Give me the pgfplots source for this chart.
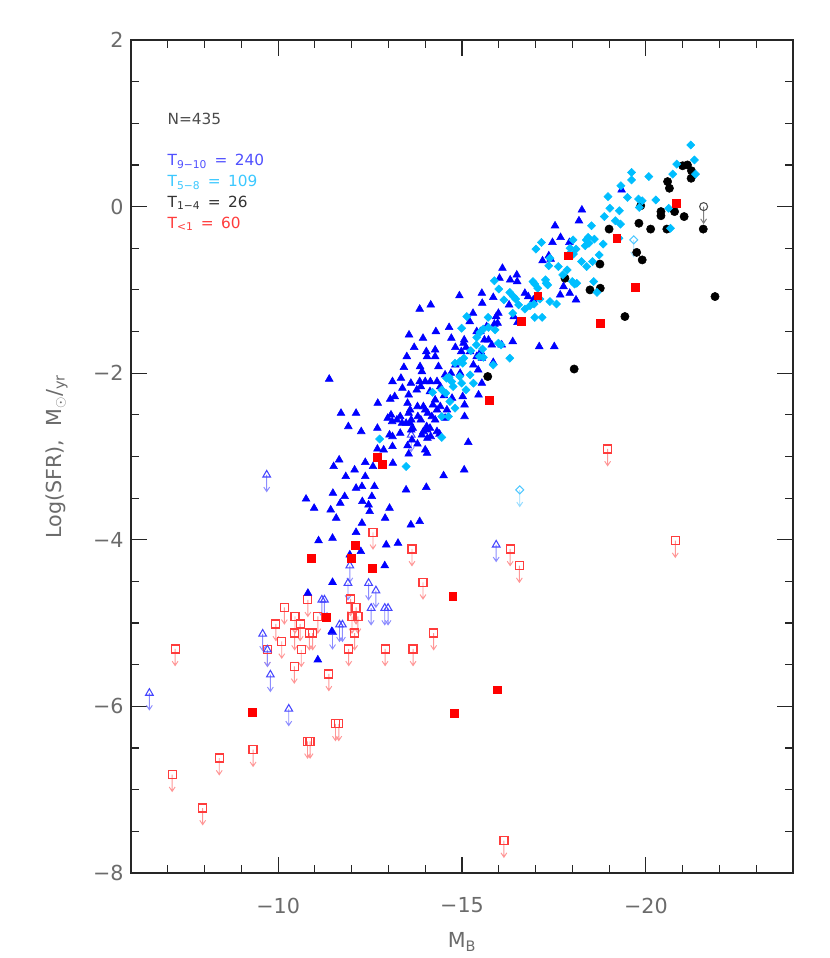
\documentclass[border=0pt]{standalone}
\usepackage{pgfplots}
\pgfplotsset{compat=1.18}
\usepackage{fontspec}
\setmainfont{DejaVu Sans}

\definecolor{tickgray}{gray}{0.42}
\definecolor{framec}{gray}{0.15}
\definecolor{cyanpt}{RGB}{0,190,255}
\definecolor{tblue}{RGB}{80,80,255}
\definecolor{tcyan}{RGB}{60,200,255}
\definecolor{tred}{RGB}{255,60,60}
\definecolor{ulred}{RGB}{255,60,60}
\definecolor{ulredarr}{RGB}{255,150,150}
\definecolor{ulblue}{RGB}{70,70,255}
\definecolor{ulbluearr}{RGB}{140,140,255}
\definecolor{ulcyan}{RGB}{80,200,255}
\definecolor{ulcyanarr}{RGB}{150,220,255}

% upper limit arrow, drawn from the point downwards
\pgfdeclareplotmark{ularrow}{%
  \pgfpathmoveto{\pgfqpoint{0pt}{0pt}}%
  \pgfpathlineto{\pgfqpoint{0pt}{-12.5pt}}%
  \pgfpathmoveto{\pgfqpoint{-2.2pt}{-9.2pt}}%
  \pgfpathlineto{\pgfqpoint{0pt}{-12.5pt}}%
  \pgfpathlineto{\pgfqpoint{2.2pt}{-9.2pt}}%
  \pgfusepathqstroke}

% T<1, detections
\pgfplotstableread{
x y
-10.90 -4.22
-11.30 -4.93
-9.29 -6.07
-12.10 -4.07
-12.00 -4.22
-12.56 -4.34
-12.69 -3.01
-12.84 -3.09
-14.75 -4.68
-14.78 -6.08
-15.95 -5.80
-15.73 -2.33
-16.60 -1.38
-17.06 -1.07
-17.88 -0.59
-18.76 -1.40
-19.21 -0.38
-19.71 -0.97
-20.82 0.04
}\redfill

% T<1, upper limits
\pgfplotstableread{
x y
-7.20 -5.31
-7.12 -6.82
-7.95 -7.22
-8.40 -6.62
-9.32 -6.52
-9.71 -5.32
-10.17 -4.81
-9.94 -5.01
-10.10 -5.22
-10.46 -4.92
-10.60 -5.01
-10.45 -5.12
-10.63 -5.32
-10.44 -5.52
-10.81 -4.72
-10.85 -5.12
-10.94 -5.12
-11.08 -4.92
-10.80 -6.42
-10.87 -6.42
-11.38 -5.61
-11.56 -6.21
-11.65 -6.21
-11.92 -5.31
-11.97 -4.71
-12.08 -5.12
-12.12 -4.81
-12.01 -4.92
-12.17 -4.92
-12.58 -3.91
-12.91 -5.31
-13.64 -4.11
-13.67 -5.31
-13.94 -4.51
-14.23 -5.12
-16.14 -7.61
-16.31 -4.11
-16.56 -4.31
-18.96 -2.91
-20.80 -4.01
}\redul

% T9-10, upper limits
\pgfplotstableread{
x y
-6.50 -5.84
-9.69 -3.22
-9.58 -5.13
-9.71 -5.32
-9.79 -5.62
-10.29 -6.03
-11.19 -4.72
-11.26 -4.72
-11.48 -5.11
-11.67 -5.02
-11.75 -5.02
-11.90 -4.52
-11.95 -4.31
-12.46 -4.52
-12.66 -4.61
-12.53 -4.82
-12.90 -4.82
-12.99 -4.82
-15.93 -4.06
-13.62 -2.74
}\blueul

% T1-4
\pgfplotstableread{
x y
-21.00 0.49
-21.13 0.50
-21.24 0.43
-21.23 0.34
-20.59 0.30
-20.64 0.22
-20.41 -0.06
-20.41 -0.11
-20.78 -0.06
-21.04 -0.12
-20.57 -0.27
-20.13 -0.27
-19.81 -0.20
-19.00 -0.27
-21.56 -0.27
-21.88 -1.08
-19.75 -0.55
-19.90 -0.64
-18.75 -0.69
-18.48 -1.00
-18.76 -0.98
-19.43 -1.32
-18.05 -1.95
-15.70 -2.04
-17.80 -0.86
-19.86 0.01
}\blk

% T5-8
\pgfplotstableread{
x y
-21.22 0.74
-21.32 0.56
-20.84 0.51
-20.73 0.39
-21.35 0.39
-20.08 0.36
-19.61 0.41
-19.61 0.32
-19.32 0.25
-18.97 0.12
-19.50 0.11
-19.80 0.09
-19.90 0.07
-20.27 0.08
-19.02 -0.02
-19.28 -0.05
-19.82 -0.01
-20.62 -0.02
-18.87 -0.12
-19.17 -0.17
-19.31 -0.21
-18.52 -0.23
-20.67 -0.26
-18.43 -0.37
-18.38 -0.40
-18.45 -0.44
-18.35 -0.47
-18.02 -0.40
-17.94 -0.50
-18.60 -0.39
-19.27 -0.38
-18.84 -0.45
-18.73 -0.58
-18.10 -0.51
-18.03 -0.57
-18.55 -0.66
-18.25 -0.66
-18.39 -0.72
-17.89 -0.58
-17.86 -0.76
-18.06 -0.93
-18.00 -0.90
-18.12 -0.92
-18.58 -0.90
-18.67 -1.03
-17.74 -0.82
-17.62 -0.72
-17.36 -0.71
-17.16 -0.43
-17.01 -0.51
-17.39 -0.62
-17.27 -0.88
-17.29 -0.92
-17.33 -0.94
-16.93 -0.90
-16.98 -0.93
-17.06 -0.98
-15.88 -0.89
-16.00 -0.99
-16.30 -1.03
-16.14 -1.12
-16.40 -1.08
-16.46 -1.11
-16.54 -1.18
-16.38 -1.28
-16.71 -1.23
-16.85 -1.19
-16.96 -1.17
-17.12 -1.11
-17.39 -1.14
-17.57 -1.17
-17.18 -1.33
-16.98 -1.33
-15.71 -1.33
-15.72 -1.45
-15.90 -1.48
-15.58 -1.47
-15.99 -1.64
-16.06 -1.66
-16.30 -1.82
-15.56 -1.71
-15.58 -1.81
-15.85 -1.90
-15.13 -1.32
-14.99 -1.46
-15.40 -1.57
-15.49 -1.51
-15.39 -1.66
-15.24 -1.73
-15.47 -1.80
-15.05 -1.82
-15.02 -1.88
-14.94 -1.86
-14.81 -1.88
-14.65 -2.05
-14.58 -2.06
-14.72 -2.10
-14.94 -2.04
-14.99 -2.12
-15.22 -2.02
-15.31 -2.12
-14.45 -2.20
-14.56 -2.24
-14.76 -2.16
-14.20 -2.23
-14.67 -2.34
-14.81 -2.42
-14.63 -2.52
-14.45 -2.52
-14.45 -2.77
-13.48 -3.12
-12.76 -2.79
-15.11 -2.20
}\cyn

% T9-10
\pgfplotstableread{
x y
-19.34 0.20
-18.26 -0.04
-18.18 -0.17
-17.53 -0.23
-17.68 -0.37
-17.46 -0.43
-17.92 -0.43
-17.19 -0.65
-17.36 -0.59
-17.41 -0.63
-17.91 -0.59
-17.76 -0.96
-17.67 -1.06
-17.93 -1.04
-18.10 -1.12
-17.10 -1.68
-17.51 -1.68
-16.10 -0.74
-16.02 -0.86
-16.31 -0.88
-16.49 -0.82
-16.50 -0.90
-15.54 -1.04
-15.55 -1.16
-15.85 -1.09
-16.71 -1.04
-16.80 -1.08
-16.94 -1.12
-15.93 -1.32
-15.99 -1.28
-15.97 -1.40
-16.41 -1.32
-16.51 -1.39
-15.61 -1.60
-15.72 -1.60
-15.81 -1.66
-16.08 -1.66
-16.38 -1.62
-16.28 -1.18
-15.67 -1.44
-15.88 -1.41
-14.93 -1.07
-15.30 -1.28
-15.21 -1.38
-15.40 -1.50
-15.50 -1.50
-14.65 -1.45
-15.06 -1.60
-15.04 -1.64
-15.11 -1.69
-14.71 -1.58
-14.82 -1.69
-14.98 -1.74
-15.22 -1.74
-15.51 -1.74
-15.54 -1.82
-14.29 -1.50
-13.94 -1.58
-13.56 -1.54
-13.70 -1.69
-14.03 -1.74
-14.05 -1.80
-14.27 -1.72
-14.27 -1.80
-14.15 -1.18
-13.85 -1.23
-13.86 -1.92
-13.91 -1.98
-14.36 -1.92
-13.85 -2.10
-14.00 -2.10
-14.14 -2.10
-14.32 -2.10
-14.41 -2.16
-13.61 -2.12
-13.55 -2.26
-13.77 -2.20
-13.88 -2.16
-13.34 -2.06
-13.38 -2.18
-13.11 -2.10
-13.17 -2.28
-13.05 -2.31
-14.82 -1.90
-14.95 -2.00
-15.02 -2.28
-15.07 -2.38
-14.73 -2.30
-14.59 -2.44
-14.54 -2.54
-14.41 -2.40
-14.27 -2.32
-15.07 -2.52
-15.45 -2.26
-15.54 -2.12
-14.21 -2.38
-14.32 -2.44
-14.18 -2.52
-14.27 -2.56
-14.32 -2.70
-14.39 -2.73
-14.00 -2.44
-14.07 -2.48
-13.88 -2.56
-14.05 -2.68
-14.15 -2.76
-14.06 -2.78
-13.91 -2.74
-13.95 -2.70
-13.80 -2.52
-13.62 -2.56
-13.55 -2.48
-13.48 -2.60
-13.59 -2.60
-13.66 -2.66
-13.32 -2.52
-13.37 -2.60
-13.23 -2.56
-13.32 -2.72
-13.07 -2.50
-12.98 -2.54
-13.10 -2.58
-13.03 -2.74
-13.11 -2.76
-13.11 -2.88
-13.12 -3.08
-13.52 -2.87
-13.55 -2.97
-14.00 -2.92
-14.05 -2.96
-13.62 -2.68
-13.64 -2.80
-12.71 -2.36
-12.70 -2.66
-12.12 -2.48
-11.91 -2.64
-11.71 -2.48
-11.39 -2.07
-12.26 -2.70
-12.87 -2.92
-12.37 -3.07
-12.58 -3.12
-11.51 -3.12
-11.66 -3.04
-11.84 -3.24
-12.08 -3.16
-12.37 -3.24
-12.28 -3.36
-12.12 -3.38
-12.62 -3.36
-12.55 -3.48
-11.49 -3.44
-11.81 -3.48
-11.69 -3.56
-11.43 -3.64
-11.58 -3.74
-10.76 -3.51
-10.98 -3.62
-12.29 -3.54
-12.46 -3.58
-12.49 -3.66
-13.03 -3.62
-12.91 -3.74
-13.61 -3.82
-13.85 -3.78
-13.48 -3.40
-14.03 -3.37
-14.50 -3.23
-15.06 -3.16
-15.17 -2.83
-12.28 -3.80
-12.12 -3.91
-12.94 -4.06
-13.26 -4.04
-11.10 -4.01
-11.48 -3.98
-10.81 -4.64
-11.46 -5.10
-11.08 -5.44
-11.48 -4.51
-12.90 -4.31
-11.95 -4.18
-12.25 -4.14
-14.13 -2.22
-14.51 -2.27
-13.52 -2.36
-13.59 -2.44
-13.79 -2.40
-13.95 -2.40
-14.04 -2.64
-14.13 -2.66
-13.79 -2.85
-12.70 -2.91
-13.42 -1.93
-13.50 -1.80
-15.31 -1.90
-15.44 -1.96
-14.54 -2.02
-15.40 -1.80
-15.85 -1.87
-14.70 -2.00
}\blu

\begin{document}
\begin{tikzpicture}
\begin{axis}[
    at={(0,0)}, anchor=south west,
    width=496.5pt, height=624.75pt, scale only axis,
    xmin=-24, xmax=-6, ymin=-8, ymax=2,
    x dir=reverse,
    xtick={-20,-15,-10}, xticklabels={−20,−15,−10},
    ytick={-8,-6,-4,-2,0,2}, yticklabels={−8,−6,−4,−2,0,2},
    minor xtick={-23,-22,...,-7},
    minor ytick={-7.5,-7,...,1.5},
    tick align=inside,
    major tick length=12pt, minor tick length=6pt,
    axis line style={framec, line width=0.9pt},
    every tick/.style={framec, line width=0.9pt},
    tick label style={font=\fontsize{15.5}{18}\selectfont, text=tickgray},
    xticklabel style={yshift=-15pt},
    yticklabel style={xshift=-2pt},
    xlabel={M\textsubscript{B}},
    ylabel={Log(SFR),\ \ M\textsubscript{$\odot$}/\textsubscript{yr}},
    label style={font=\fontsize{15.5}{18}\selectfont, text=tickgray},
    xlabel style={at={(axis description cs:0.5,-0.083)}, anchor=center},
    ylabel style={at={(axis description cs:-0.112,0.5)}, anchor=center},
    only marks,
]
% upper limit arrows
\addplot[mark=ularrow, mark options={draw=ulredarr, line width=0.7pt}] table {\redul};
\addplot[mark=ularrow, mark options={draw=ulbluearr, line width=0.7pt}] table {\blueul};
\addplot[mark=ularrow, mark options={draw=ulcyanarr, line width=0.7pt}] coordinates {(-16.57,-3.40) (-19.67,-0.40)};
\addplot[mark=ularrow, mark options={draw=gray, line width=0.7pt}] coordinates {(-21.57,0.0)};
% open symbols
\addplot[mark=square, mark size=3pt, mark options={draw=ulred, fill=white, fill opacity=0, line width=0.9pt}] table {\redul};
\addplot[mark=triangle, mark size=3.3pt, mark options={draw=ulblue, line width=0.8pt}] table {\blueul};
\addplot[mark=square, mark size=2.1pt, mark options={draw=ulcyan, line width=0.8pt, rotate=45}] coordinates {(-16.57,-3.40) (-19.67,-0.40)};
\addplot[mark=o, mark size=3pt, mark options={draw=black!70, line width=0.8pt}] coordinates {(-21.57,0.0)};
% detections
\addplot[mark=*, mark size=3.1pt, mark options={draw=black, fill=black}] table {\blk};
\addplot[mark=triangle*, mark size=3.35pt, mark options={draw=blue, fill=blue}] table {\blu};
\addplot[mark=square*, mark size=2.15pt, mark options={draw=cyanpt, fill=cyanpt, rotate=45}] table {\cyn};
\addplot[mark=square*, mark size=2.95pt, mark options={draw=red, fill=red}] table {\redfill};
% fit
\addplot[no marks, red, line width=0.6pt, dash pattern=on 7pt off 2.5pt on 0.8pt off 2.5pt] coordinates {(-7.97,-4.80) (-22.0,0.80)};

\node[anchor=base west, inner sep=0, text=black!70, font=\fontsize{11.5}{14}\selectfont] at (axis description cs:0.055,0.899) {N=435};
\node[anchor=base west, inner sep=0, text=tblue, font=\fontsize{11.5}{14}\selectfont] at (axis description cs:0.055,0.849) {T\textsubscript{9−10} \,=\, 240};
\node[anchor=base west, inner sep=0, text=tcyan, font=\fontsize{11.5}{14}\selectfont] at (axis description cs:0.055,0.824) {T\textsubscript{5−8} \,=\, 109};
\node[anchor=base west, inner sep=0, text=black!80, font=\fontsize{11.5}{14}\selectfont] at (axis description cs:0.055,0.799) {T\textsubscript{1−4} \,=\, 26};
\node[anchor=base west, inner sep=0, text=tred, font=\fontsize{11.5}{14}\selectfont] at (axis description cs:0.055,0.774) {T\textsubscript{<1} \,=\, 60};
\end{axis}
\pgfresetboundingbox
\useasboundingbox (-98.25pt,-63.75pt) rectangle (524.25pt,654.75pt);
\end{tikzpicture}
\end{document}
